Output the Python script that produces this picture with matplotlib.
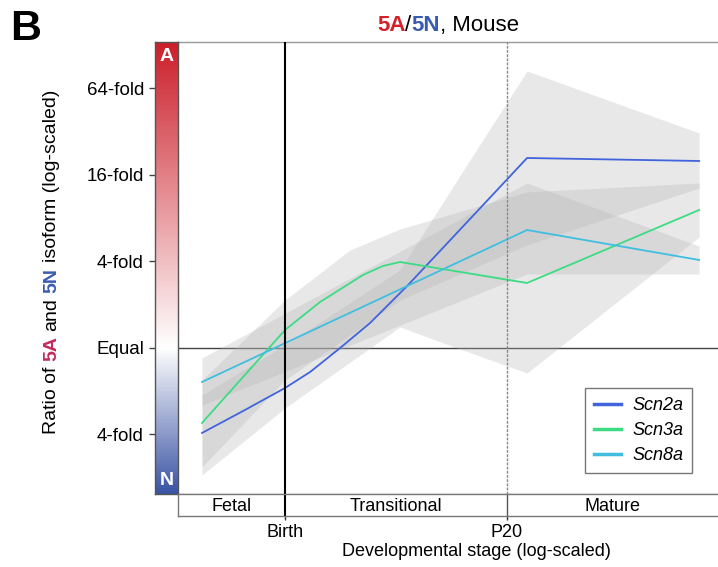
import numpy as np
import matplotlib
matplotlib.use('Agg')
import matplotlib.pyplot as plt
from matplotlib.colors import LinearSegmentedColormap, TwoSlopeNorm
from matplotlib.lines import Line2D

plt.rcParams['font.family'] = ['Liberation Sans', 'DejaVu Sans']

# x: developmental stage on a log scale, Birth = 0, P20 = 1
# y: log2(5A / 5N)
genes = ['Scn2a', 'Scn3a', 'Scn8a']
colors = ['#4164dc', '#3ddc84', '#40bee0']

scn2a_x = [-0.374, -0.189, 0.0, 0.113, 0.248, 0.383, 0.550, 0.698, 0.833, 0.968, 1.090, 1.865]
scn2a_y = [-1.965, -1.457, -0.925, -0.555, 0.0, 0.578, 1.434, 2.243, 2.983, 3.723, 4.393, 4.324]
scn3a_x = [-0.374, 0.0, 0.158, 0.351, 0.441, 0.518, 1.090, 1.865]
scn3a_y = [-1.734, 0.416, 1.064, 1.688, 1.896, 1.988, 1.503, 3.191]
scn8a_x = [-0.374, 1.090, 1.865]
scn8a_y = [-0.786, 2.728, 2.035]

# grey confidence bands
band2a_x = [-0.374, 0.0, 0.518, 0.775, 1.090, 1.865]
band2a_lo = [-2.936, -1.387, 0.486, 0.0, -0.578, 2.566]
band2a_hi = [-1.087, 0.069, 1.803, 3.884, 6.405, 4.971]
band3a_x = [-0.374, 0.0, 0.293, 0.518, 1.090, 1.865]
band3a_lo = [-2.751, -0.740, 0.301, 1.110, 2.382, 3.699]
band3a_hi = [-0.740, 1.110, 2.266, 2.751, 3.607, 3.815]
band8a_x = [-0.374, 1.090, 1.865]
band8a_lo = [-1.318, 1.711, 1.711]
band8a_hi = [-0.231, 3.815, 2.358]

ytick_vals = [-2, 0, 2, 4, 6]
ytick_labels = ['4-fold', 'Equal', '4-fold', '16-fold', '64-fold']
stages = ['Fetal', 'Transitional', 'Mature']
marks = [0, 1]
mark_labels = ['Birth', 'P20']

ylim = (-3.376, 7.075)
xlim = (-0.482, 1.950)

W, H = 718, 567
fig = plt.figure(figsize=(W / 100, H / 100), dpi=100)

ax = fig.add_axes([178 / W, 1 - 494 / H, 540 / W, 452 / H])
cax = fig.add_axes([155 / W, 1 - 494 / H, 23 / W, 452 / H])
sax = fig.add_axes([178 / W, 1 - 516 / H, 540 / W, 22 / H])

# main panel
lines = [(scn2a_x, scn2a_y), (scn3a_x, scn3a_y), (scn8a_x, scn8a_y)]
bands = [(band2a_x, band2a_lo, band2a_hi), (band3a_x, band3a_lo, band3a_hi),
         (band8a_x, band8a_lo, band8a_hi)]
for bx, lo, hi in bands:
    ax.fill_between(bx, lo, hi, color='#b4b4b4', alpha=0.3, lw=0, zorder=2)
for (lx, ly), c in zip(lines, colors):
    ax.plot(lx, ly, color=c, lw=1.3, zorder=3)

ax.axhline(0, color='#444444', lw=1, zorder=1)
ax.axvline(marks[0], color='black', lw=1.5, zorder=4)
ax.axvline(marks[1], color='#888888', lw=1, dashes=(2, 1), zorder=4)
ax.set_xlim(xlim)
ax.set_ylim(ylim)
ax.set_xticks([])
ax.set_yticks([])
for s in ['left', 'right']:
    ax.spines[s].set_visible(False)
for s in ['top', 'bottom']:
    ax.spines[s].set_color('#999999')
    ax.spines[s].set_linewidth(1)

handles = [Line2D([], [], color=c, lw=2.5) for c in colors]
leg = ax.legend(handles, genes, loc='lower right', bbox_to_anchor=(0.952, 0.046),
                prop={'style': 'italic', 'size': 13}, fancybox=False,
                edgecolor='#777777', framealpha=1, handlelength=1.5,
                handletextpad=0.6, labelspacing=0.45, borderpad=0.5,
                borderaxespad=0)
leg.get_frame().set_linewidth(1)

# colour bar on the y axis
cmap = LinearSegmentedColormap.from_list('an', ['#3b54a4', '#ffffff', '#cc1f2a'])
grad = np.linspace(ylim[1], ylim[0], 300)[:, None]
cax.imshow(grad, cmap=cmap, norm=TwoSlopeNorm(0, ylim[0], ylim[1]),
           extent=[0, 1, ylim[0], ylim[1]], aspect='auto')
cax.set_xlim(0, 1)
cax.set_ylim(ylim)
cax.set_xticks([])
cax.set_yticks(ytick_vals)
cax.set_yticklabels(ytick_labels, fontsize=13.5)
cax.tick_params(axis='y', length=4, width=1, color='#444444', pad=4)
for s in cax.spines.values():
    s.set_color('#555555')
    s.set_linewidth(1)
cax.text(0.5, 0.967, 'A', color='white', fontsize=14, fontweight='bold',
         ha='center', va='center', transform=cax.transAxes)
cax.text(0.5, 0.029, 'N', color='white', fontsize=14, fontweight='bold',
         ha='center', va='center', transform=cax.transAxes)

# stage strip
sax.set_xlim(xlim)
sax.set_ylim(0, 1)
sax.set_yticks([])
sax.set_xticks(marks)
sax.set_xticklabels(mark_labels, fontsize=13)
sax.tick_params(axis='x', length=3, width=1, color='#333333', pad=3)
sax.spines['right'].set_visible(False)
for s in ['left', 'bottom', 'top']:
    sax.spines[s].set_color('#777777')
    sax.spines[s].set_linewidth(1)
sax.axvline(marks[0], color='black', lw=1.5)
sax.axvline(marks[1], color='#555555', lw=1)
edges = [xlim[0]] + marks + [xlim[1]]
for i, name in enumerate(stages):
    sax.text((edges[i] + edges[i + 1]) / 2, 0.45, name, fontsize=13,
             ha='center', va='center')

fig.text(476 / W, 1 - 543 / H, 'Developmental stage (log-scaled)', fontsize=13,
         ha='center', va='top')

# multi-coloured texts
renderer = fig.canvas.get_renderer()


def measure(s, **kw):
    t1 = fig.text(0, 0, '|' + s + '|', **kw)
    t2 = fig.text(0, 0, '||', **kw)
    w = t1.get_window_extent(renderer).width - t2.get_window_extent(renderer).width
    t1.remove()
    t2.remove()
    return w


def multicolor(pieces, x, y, rotation=0, size=13):
    sp = measure(' ', fontsize=size)
    widths = [measure(s, fontsize=size, fontweight=w) for s, c, w in pieces]
    pos = -sum(widths) / 2
    for (s, c, w), wd in zip(pieces, widths):
        lead = (len(s) - len(s.lstrip(' '))) * sp
        p = pos + lead
        xy = (x + p, y) if rotation == 0 else (x, y + p)
        fig.text(xy[0] / W, xy[1] / H, s.strip(' '), color=c, fontweight=w,
                 fontsize=size, rotation=rotation, rotation_mode='anchor',
                 ha='left', va='baseline')
        pos += wd


multicolor([('5A', '#d42028', 'bold'), ('/', 'black', 'normal'),
            ('5N', '#3a5cb0', 'bold'), (', Mouse', 'black', 'normal')],
           448, H - 31, size=16)
multicolor([('Ratio of ', 'black', 'normal'), ('5A', '#c42a5a', 'bold'),
            (' and ', 'black', 'normal'), ('5N', '#3a5cb0', 'bold'),
            (' isoform (log-scaled)', 'black', 'normal')],
           56, H - 262, rotation=90, size=14)

fig.text(10 / W, 1 - 40 / H, 'B', fontsize=31, fontweight='bold', va='baseline')

fig.savefig('out.png', dpi=100)
